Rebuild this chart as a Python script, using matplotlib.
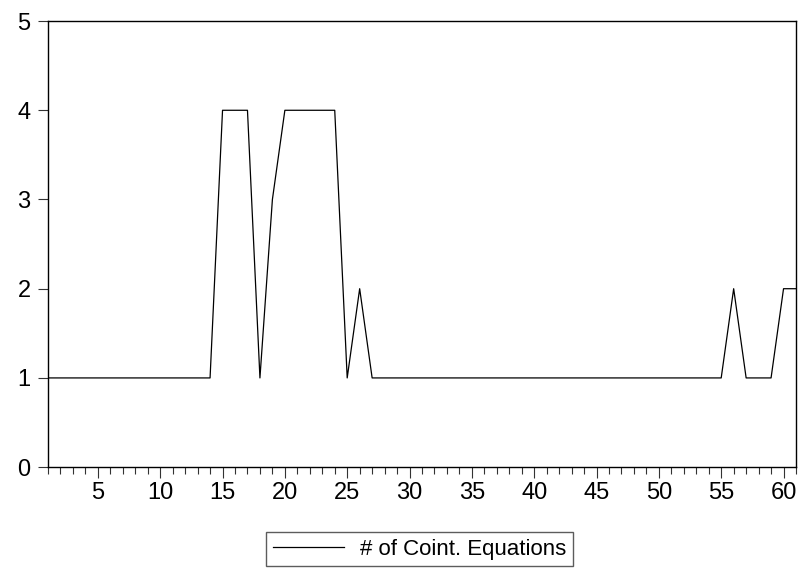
import matplotlib
matplotlib.use("Agg")
import matplotlib.pyplot as plt
from matplotlib.ticker import MultipleLocator

plt.rcParams['font.family'] = ['Liberation Sans', 'DejaVu Sans']

x = list(range(1, 62))
y = ([1] * 13 + [1, 4, 4, 4, 1, 3, 4, 4, 4, 4, 4, 1, 2]
     + [1] * 29 + [2, 1, 1, 1, 2, 2])
assert len(y) == len(x)
series_label = "# of Coint. Equations"

fig = plt.figure(figsize=(8, 5.69), dpi=100)
ax = fig.add_axes([0.06, 0.179, 0.935, 0.784])
ax.plot(x, y, color='black', lw=0.9, label=series_label)
ax.set_xlim(1, 61)
ax.set_ylim(0, 5)
ax.xaxis.set_major_locator(MultipleLocator(5))
ax.xaxis.set_minor_locator(MultipleLocator(1))
ax.set_yticks(range(0, 6))
ax.tick_params(axis='x', which='major', length=8, width=0.8, labelsize=17, pad=3, color='#333333')
ax.tick_params(axis='x', which='minor', length=5, width=0.8, color='#333333')
ax.tick_params(axis='y', length=7.5, width=0.8, labelsize=17, pad=5, color='#333333')
for s in ax.spines.values():
    s.set_linewidth(1.0)
    s.set_color('black')
leg = fig.legend(loc='upper center', bbox_to_anchor=(0.5244, 1 - 532 / 569),
                 fancybox=False, edgecolor='#333333', fontsize=16, handlelength=3.2,
                 borderpad=0.3, handletextpad=0.7, borderaxespad=0)
leg.get_frame().set_linewidth(1.0)
fig.savefig("out.png", dpi=100)
